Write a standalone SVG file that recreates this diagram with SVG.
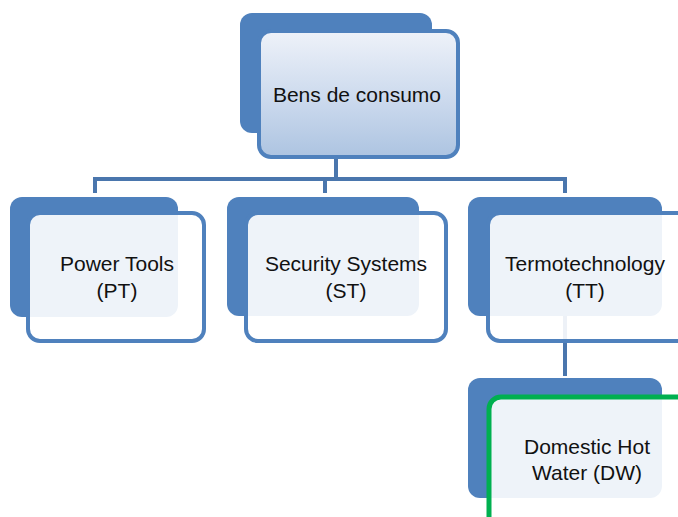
<svg xmlns="http://www.w3.org/2000/svg" width="678" height="517" viewBox="0 0 678 517">
  <style>
    .back { fill: #4f81bd; }
    .front { fill: #ffffff; fill-opacity: 0.9; stroke: #4f81bd; stroke-width: 4; }
    .root { fill: url(#rootFill); stroke: #4f81bd; stroke-width: 4; }
    .hl { stroke: #00b050; stroke-width: 5; }
    .conn { fill: none; stroke: #4a76ad; stroke-width: 4; }
    text { font-family: "Liberation Sans", Arial, sans-serif; font-size: 21px; fill: #111; text-anchor: middle; }
  </style>
  <defs>
    <linearGradient id="rootFill" x1="0" y1="0" x2="0" y2="1">
      <stop offset="0" stop-color="#eef2f9"/>
      <stop offset="0.6" stop-color="#c8d7ec"/>
      <stop offset="1" stop-color="#adc4e1"/>
    </linearGradient>
  </defs>
  <rect width="678" height="517" fill="#ffffff"/>

  <!-- connectors -->
  <g id="connectors">
    <path class="conn" d="M336 157 V179 M95 193 V179 H565 V193 M325 179 V193"/>
    <path class="conn" d="M565 316 V376"/>
  </g>

  <g id="node-bens">
    <rect class="back" x="240" y="13" width="192" height="120" rx="12"/>
    <rect class="root" x="259" y="31" width="199" height="126" rx="12"/>
    <text x="357" y="102">Bens de consumo</text>
  </g>

  <g id="node-pt">
    <rect class="back" x="10" y="197" width="168" height="120" rx="12"/>
    <rect class="front" x="28" y="213" width="176" height="128" rx="12"/>
    <text x="117" y="271">Power Tools</text>
    <text x="117" y="298">(PT)</text>
  </g>

  <g id="node-st">
    <rect class="back" x="227" y="197" width="192" height="119" rx="12"/>
    <rect class="front" x="246" y="213" width="200" height="128" rx="12"/>
    <text x="346" y="271">Security Systems</text>
    <text x="346" y="298">(ST)</text>
  </g>

  <g id="node-tt">
    <rect class="back" x="468" y="197" width="194" height="119" rx="12"/>
    <rect class="front" x="488" y="213" width="210" height="128" rx="12"/>
    <text x="585" y="271">Termotechnology</text>
    <text x="585" y="298">(TT)</text>
  </g>

  <g id="node-dw">
    <rect class="back" x="468" y="378" width="194" height="120" rx="12"/>
    <rect class="front hl" x="489" y="397" width="210" height="140" rx="12"/>
    <text x="587" y="454">Domestic Hot</text>
    <text x="587" y="480">Water (DW)</text>
  </g>
</svg>
